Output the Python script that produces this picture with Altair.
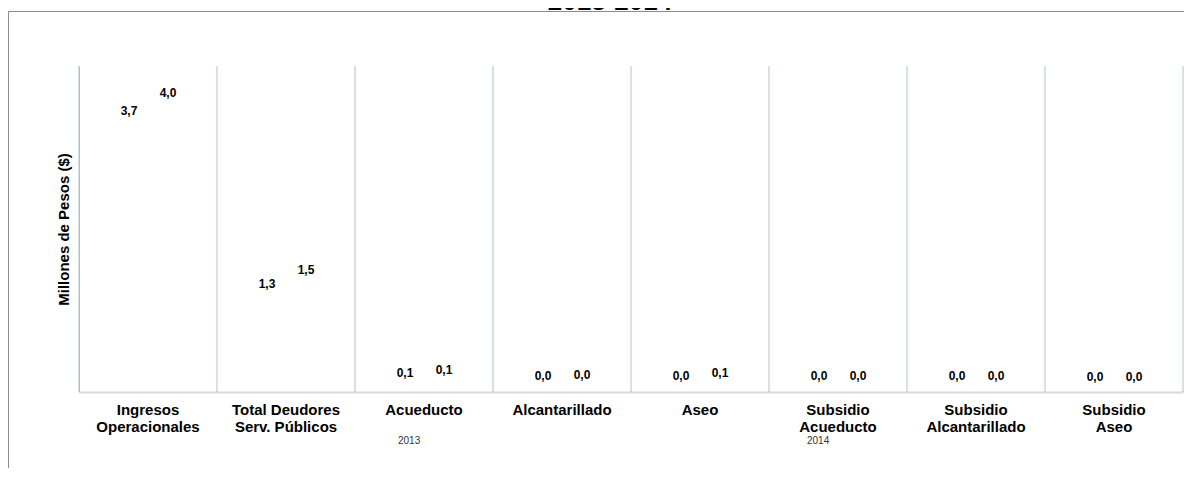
import altair as alt
import pandas as pd

# ---- data ----
categories = ["Ingresos|Operacionales", "Total Deudores|Serv. Públicos", "Acueducto",
              "Alcantarillado", "Aseo", "Subsidio|Acueducto", "Subsidio|Alcantarillado",
              "Subsidio|Aseo"]
years = ["2013", "2014"]
values_2013 = [3.74, 1.31, 0.06, 0.02, 0.02, 0.01, 0.01, 0.0]
values_2014 = [4.00, 1.50, 0.10, 0.03, 0.06, 0.02, 0.02, 0.0]
title_text = "2013-2014"
y_title = "Millones de Pesos ($)"

rows = []
for c, a, b in zip(categories, values_2013, values_2014):
    for yr, v in zip(years, [a, b]):
        rows.append({"cat": c, "year": yr, "value": v,
                     "label": f"{v:.1f}".replace(".", ",")})
df = pd.DataFrame(rows)
grid_df = pd.DataFrame({"cat": categories})
edge_df = pd.DataFrame({"cat": categories[-1:]})
one = pd.DataFrame({"t": [title_text]})

W, H = 1104, 326
FONT = "Liberation Sans"
GRID = "#b3bfcc"

x_axis = alt.Axis(title=None, labelExpr="split(datum.label, '|')", labelFont=FONT,
                  labelFontWeight="bold", labelFontSize=15, labelColor="black",
                  labelLineHeight=17, labelPadding=10, labelAngle=0, ticks=False,
                  domainColor="#d9d9d9", domainWidth=2, grid=False, labelLimit=200)
x_scale = alt.Scale(domain=categories, paddingInner=0, paddingOuter=0)

frame = alt.Chart(one).mark_rect(fill=None, stroke="#8c8c8c", strokeWidth=1).encode(
    x=alt.value(-70.5), x2=alt.value(1300), y=alt.value(-54.5), y2=alt.value(700))

grid = alt.Chart(grid_df).mark_rule(color=GRID, strokeWidth=1).encode(
    x=alt.X("cat:N", bandPosition=0, scale=x_scale, axis=x_axis, sort=categories),
    y=alt.value(0), y2=alt.value(H))
edge = alt.Chart(edge_df).mark_rule(color=GRID, strokeWidth=1).encode(
    x=alt.X("cat:N", bandPosition=1, scale=x_scale, axis=x_axis, sort=categories),
    y=alt.value(0), y2=alt.value(H))

labels = alt.Chart(df).mark_text(font=FONT, fontWeight="bold", fontSize=12,
                                 baseline="middle", dy=-15).encode(
    x=alt.X("cat:N", scale=x_scale, axis=x_axis, sort=categories),
    xOffset=alt.XOffset("year:N", scale=alt.Scale(type="point", domain=years,
                                                   range=[50, 89], padding=0)),
    y=alt.Y("value:Q", scale=alt.Scale(domain=[0, 4.59], nice=False, zero=True),
            axis=alt.Axis(title=y_title, titleFont=FONT, titleFontWeight="bold",
                          titleFontSize=15, titleColor="black", titlePadding=8,
                          labels=False, ticks=False, grid=False,
                          domainColor=GRID, domainWidth=1)),
    text="label:N",
    color=alt.Color("year:N", scale=alt.Scale(domain=years, range=["black", "black"]),
                    legend=alt.Legend(title=None, orient="none", legendX=303, legendY=369,
                                      direction="horizontal", columnPadding=370,
                                      symbolOpacity=0, labelFont=FONT, labelFontSize=10,
                                      labelColor="#333333")),
)

title = alt.Chart(one).mark_text(font=FONT, fontWeight="bold", fontSize=26,
                                 baseline="alphabetic", align="center").encode(
    x=alt.value(531), y=alt.value(-56), text="t:N")

chart = alt.layer(frame, grid, edge, labels, title).properties(
    width=W, height=H,
    autosize=alt.AutoSizeParams(type="none"),
    padding={"left": 71, "top": 58, "right": 1, "bottom": 76},
).configure_view(stroke=None)

chart.save("out.html", embed_options={"renderer": "svg", "actions": False})
